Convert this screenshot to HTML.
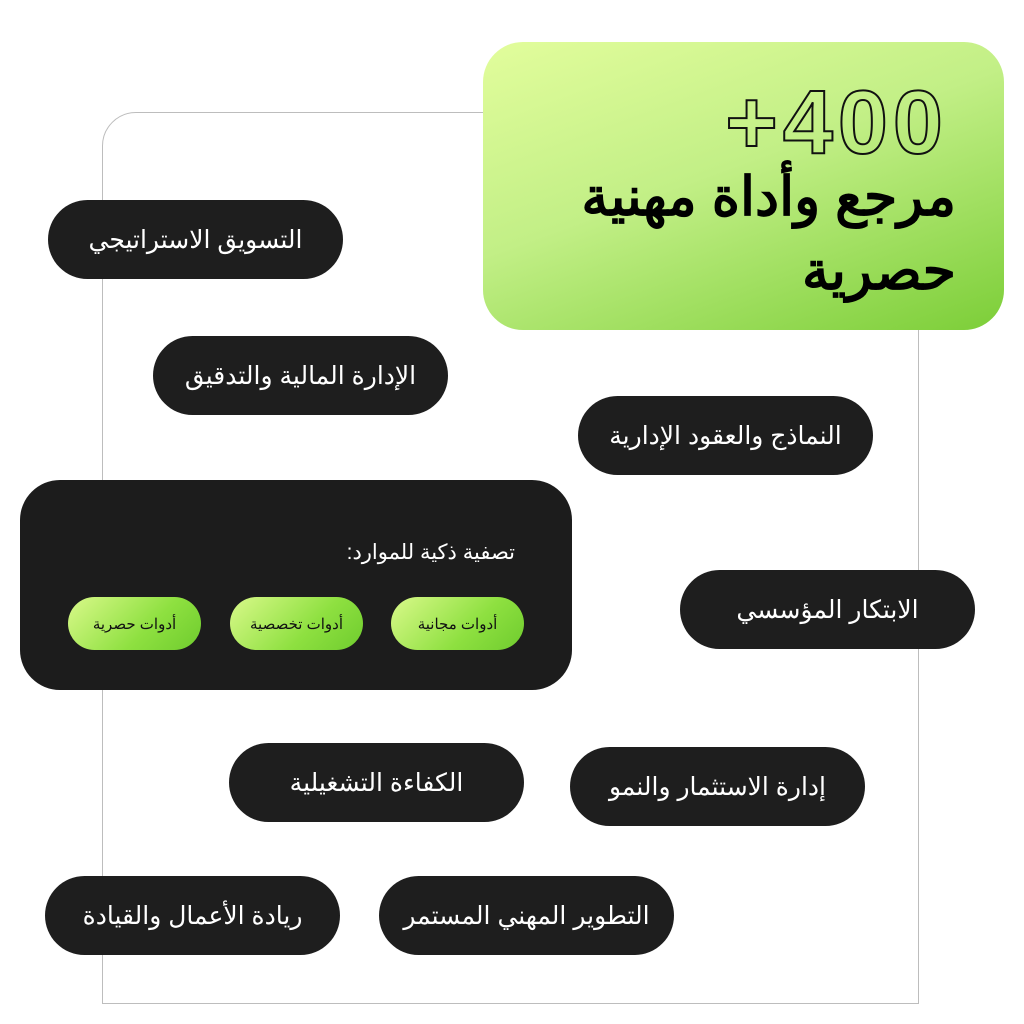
<!DOCTYPE html>
<html><head><meta charset="utf-8"><style>
body{margin:0;width:1024px;height:1024px;background:#fff;position:relative;overflow:hidden;font-family:"Liberation Sans","Noto Sans CJK SC",sans-serif;}
.frame{position:absolute;left:102px;top:112px;width:817px;height:892px;border:1px solid #bdbdbd;border-top-left-radius:34px;box-sizing:border-box;}
.card{position:absolute;left:483px;top:42px;width:521px;height:288px;border-radius:40px;background:linear-gradient(160deg,#e2fd9c 0%,#c2ef86 45%,#7cce38 100%);}
.big{position:absolute;right:56px;top:36px;font-size:90px;font-weight:bold;color:transparent;-webkit-text-stroke:2px #111;direction:ltr;line-height:1;letter-spacing:5px;}
.t{position:absolute;right:48px;font-size:54px;font-weight:bold;color:#000;direction:rtl;line-height:1;}
.p{position:absolute;height:79px;width:295px;border-radius:40px;background:#1e1e1e;color:#fff;font-size:25px;display:flex;align-items:center;justify-content:center;direction:rtl;}
.panel{position:absolute;left:20px;top:480px;width:552px;height:210px;border-radius:40px;background:#1c1c1c;}
.ft{position:absolute;right:57px;top:60px;color:#fff;font-size:21px;direction:rtl;}
.chip{position:absolute;top:117px;width:133px;height:53px;border-radius:27px;background:linear-gradient(135deg,#d9f98a,#8ee040 60%,#6fcc2e);color:#111;font-size:15px;display:flex;align-items:center;justify-content:center;direction:rtl;}
</style></head><body>
<div class="frame"></div>
<div class="card">
<div class="big">+400</div>
<div class="t" style="top:128px">مرجع وأداة مهنية</div>
<div class="t" style="top:202px">حصرية</div>
</div>
<div class="p" style="left:48px;top:200px">التسويق الاستراتيجي</div>
<div class="p" style="left:153px;top:336px">الإدارة المالية والتدقيق</div>
<div class="p" style="left:578px;top:396px">النماذج والعقود الإدارية</div>
<div class="panel">
<div class="ft">تصفية ذكية للموارد:</div>
<div class="chip" style="left:48px">أدوات حصرية</div>
<div class="chip" style="left:210px">أدوات تخصصية</div>
<div class="chip" style="left:371px">أدوات مجانية</div>
</div>
<div class="p" style="left:680px;top:570px">الابتكار المؤسسي</div>
<div class="p" style="left:229px;top:743px">الكفاءة التشغيلية</div>
<div class="p" style="left:570px;top:747px">إدارة الاستثمار والنمو</div>
<div class="p" style="left:45px;top:876px">ريادة الأعمال والقيادة</div>
<div class="p" style="left:379px;top:876px">التطوير المهني المستمر</div>
</body></html>
